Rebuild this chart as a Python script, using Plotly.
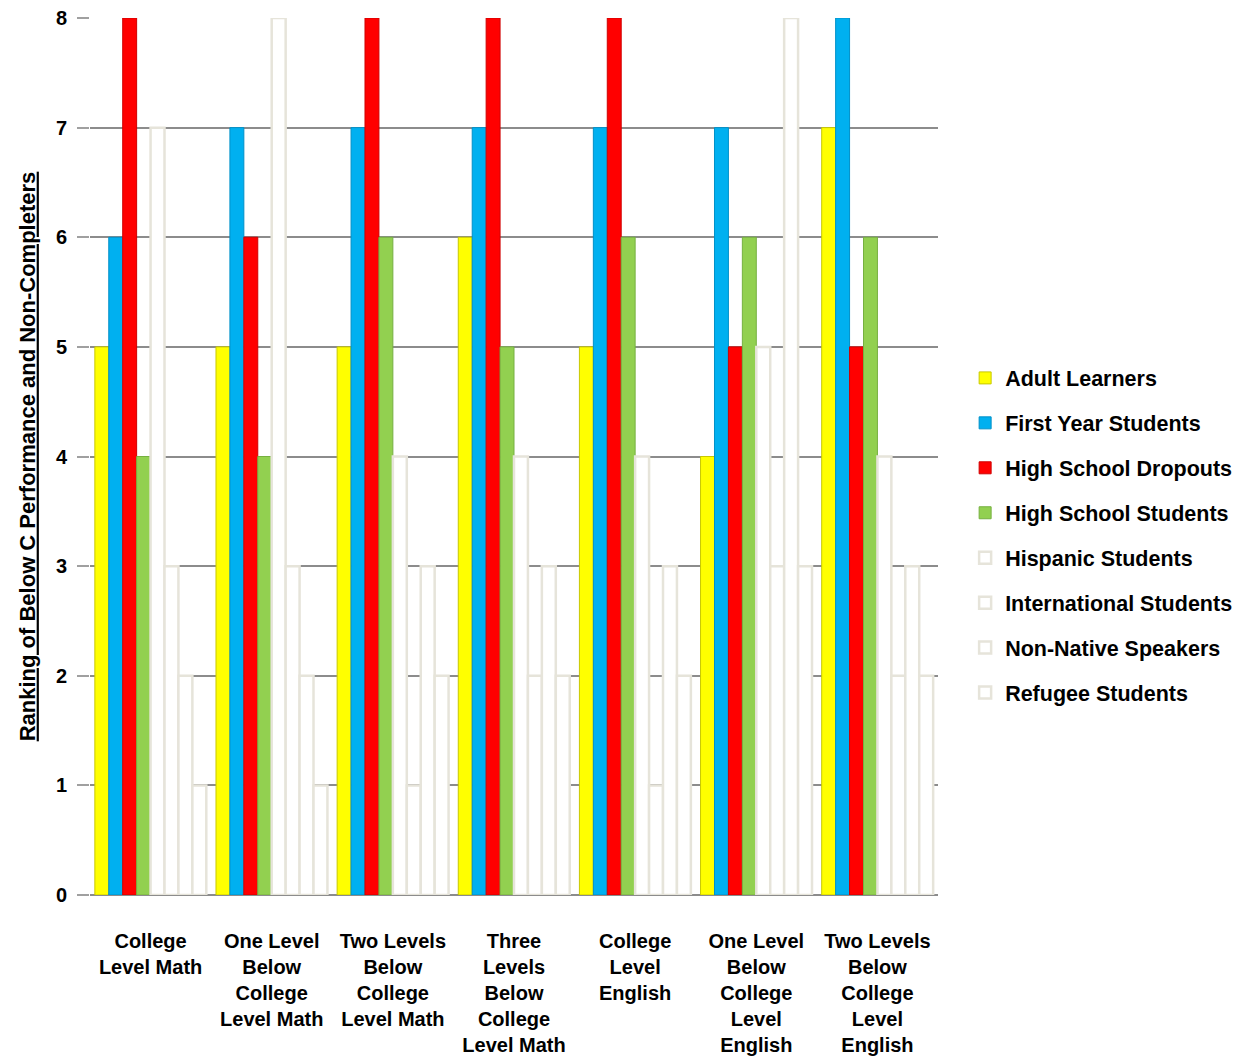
import plotly.graph_objects as go

categories = [
    "College<br>Level Math",
    "One Level<br>Below<br>College<br>Level Math",
    "Two Levels<br>Below<br>College<br>Level Math",
    "Three<br>Levels<br>Below<br>College<br>Level Math",
    "College<br>Level<br>English",
    "One Level<br>Below<br>College<br>Level<br>English",
    "Two Levels<br>Below<br>College<br>Level<br>English",
]

adult_learners = [5, 5, 5, 6, 5, 4, 7]
first_year_students = [6, 7, 7, 7, 7, 7, 8]
high_school_dropouts = [8, 6, 8, 8, 8, 5, 5]
high_school_students = [4, 4, 6, 5, 6, 6, 6]
hispanic_students = [7, 8, 4, 4, 4, 5, 4]
international_students = [3, 3, 1, 2, 1, 3, 2]
non_native_speakers = [2, 2, 3, 3, 3, 8, 3]
refugee_students = [1, 1, 2, 2, 2, 3, 2]

series_names = [
    "Adult Learners", "First Year Students", "High School Dropouts",
    "High School Students", "Hispanic Students", "International Students",
    "Non-Native Speakers", "Refugee Students",
]
series_values = [
    adult_learners, first_year_students, high_school_dropouts,
    high_school_students, hispanic_students, international_students,
    non_native_speakers, refugee_students,
]
fills = ["#FFFF00", "#00B0F0", "#FF0000", "#92D050", "#FFFFFF", "#FFFFFF", "#FFFFFF", "#FFFFFF"]
edges = ["#C8C800", "#0090C8", "#D00000", "#76B040", "#E6E4DA", "#E6E4DA", "#E6E4DA", "#E6E4DA"]
edge_w = [1, 1, 1, 1, 2.5, 2.5, 2.5, 2.5]

FONT = "Liberation Sans, Arial"

fig = go.Figure()
for i, (name, vals) in enumerate(zip(series_names, series_values)):
    fig.add_trace(go.Bar(
        name=name, x=categories, y=vals,
        marker=dict(color=fills[i], line=dict(color=edges[i], width=edge_w[i])),
        legendgroup=name,
    ))

fig.update_layout(
    width=1255, height=1064,
    margin=dict(l=90, r=317, t=18, b=169, autoexpand=False),
    paper_bgcolor="white", plot_bgcolor="white",
    barmode="group", bargap=0.08, bargroupgap=0.0,
    font=dict(family=FONT, size=20, color="black", weight="bold"),
    showlegend=True,
    legend=dict(
        x=1.032, xanchor="left", y=0.41, yanchor="middle",
        font=dict(family=FONT, size=21.5, color="black", weight="bold"),
        tracegroupgap=14, itemwidth=30,
    ),
    xaxis=dict(
        showgrid=False, zeroline=False, showline=False,
        tickfont=dict(family=FONT, size=20, color="black", weight="bold"),
        ticks="", ticklabelstandoff=32,
    ),
    yaxis=dict(
        range=[0, 8], dtick=1, tick0=0,
        showgrid=True, gridcolor="#8C8C8C", gridwidth=2,
        zeroline=True, zerolinecolor="#8C8C8C", zerolinewidth=2,
        showline=False,
        tickfont=dict(family=FONT, size=20, color="black", weight="bold"),
        ticks="outside", ticklen=12, tickcolor="#A0A0A0", tickwidth=2,
        ticklabelstandoff=6,
        title=dict(
            text="<u>Ranking of Below C Performance and Non-Completers</u>",
            font=dict(family=FONT, size=22, color="black", weight="bold"),
            standoff=14,
        ),
    ),
)

fig.write_html("out.html")
